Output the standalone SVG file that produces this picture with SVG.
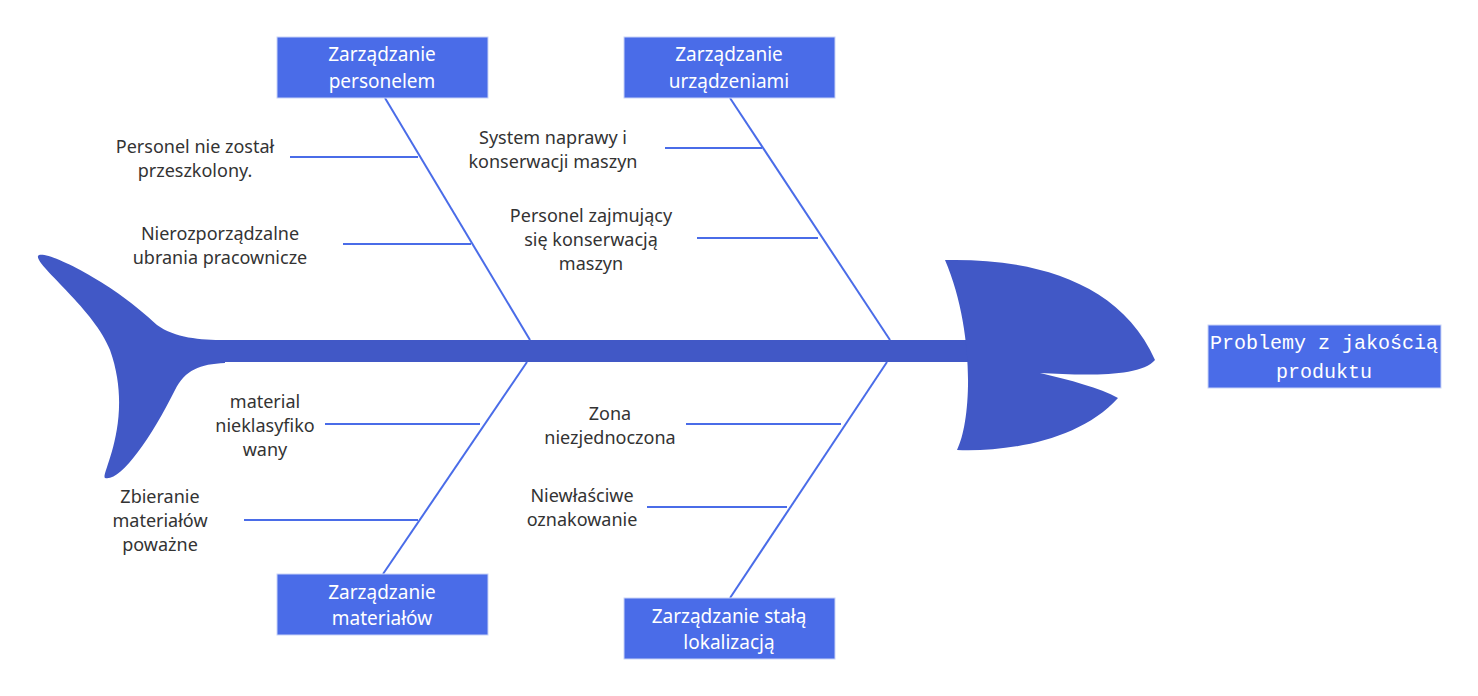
<svg xmlns="http://www.w3.org/2000/svg" width="1478" height="696" viewBox="0 0 1478 696">
<style>
.box{fill:#4a6ce8;stroke:#c9d3f7;stroke-width:1}
.bt{font-family:"Noto Sans","Open Sans",sans-serif;font-size:19px;fill:#fff;text-anchor:middle}
.lb{font-family:"Noto Sans","Open Sans",sans-serif;font-size:18px;fill:#333;text-anchor:middle}
.ln{stroke:#4a6ce8;stroke-width:2;fill:none}
.fish{fill:#4158c6}
</style>
<rect width="1478" height="696" fill="#fff"/>
<g id="fish">
<path class="fish" d="M38,256 C42,248 110,280 157,325 C175,338 200,340 225,340 L225,363 C200,364 185,370 175,390 C150,440 120,482 105,478 C100,475 135,420 110,350 C95,310 35,265 38,256 Z"/>
<rect class="fish" x="200" y="340" width="775" height="22"/>
<path class="fish" d="M945,260 C1030,258 1120,280 1155,360 C1140,378 1080,375 1040,373 C1070,380 1100,388 1118,398 C1080,440 1010,452 957,450 C972,420 975,330 945,260 Z"/>
</g>
<g id="connectors">
<line class="ln" x1="385" y1="98" x2="530" y2="340"/>
<line class="ln" x1="527" y1="362" x2="383" y2="574"/>
<line class="ln" x1="730" y1="98" x2="890" y2="340"/>
<line class="ln" x1="887" y1="362" x2="730" y2="598"/>
<line class="ln" x1="290" y1="157" x2="418" y2="157"/>
<line class="ln" x1="343" y1="244" x2="471" y2="244"/>
<line class="ln" x1="665" y1="148" x2="762" y2="148"/>
<line class="ln" x1="697" y1="238" x2="818" y2="238"/>
<line class="ln" x1="325" y1="424" x2="480" y2="424"/>
<line class="ln" x1="244" y1="520" x2="418" y2="520"/>
<line class="ln" x1="686" y1="424" x2="841" y2="424"/>
<line class="ln" x1="647" y1="507" x2="787" y2="507"/>
</g>
<g id="n_personel"><rect class="box" x="277" y="37" width="211" height="61"/><text class="bt" x="382" y="61">Zarządzanie</text><text class="bt" x="382" y="88">personelem</text></g>
<g id="n_urzadzenia"><rect class="box" x="624" y="37" width="211" height="61"/><text class="bt" x="729" y="61">Zarządzanie</text><text class="bt" x="729" y="88">urządzeniami</text></g>
<g id="n_materialy"><rect class="box" x="277" y="574" width="211" height="61"/><text class="bt" x="382" y="599">Zarządzanie</text><text class="bt" x="382" y="625">materiałów</text></g>
<g id="n_lokalizacja"><rect class="box" x="624" y="598" width="211" height="61"/><text class="bt" x="729" y="623">Zarządzanie stałą</text><text class="bt" x="729" y="649">lokalizacją</text></g>
<g id="n_problem"><rect class="box" x="1208" y="325" width="233" height="63"/><text class="bt" x="1324" y="349" style="font-family:'Liberation Mono',monospace;font-size:20px">Problemy z jakością</text><text class="bt" x="1324" y="378" style="font-family:'Liberation Mono',monospace;font-size:20px">produktu</text></g>
<g id="labels">
<text class="lb" x="195" y="153">Personel nie został</text><text class="lb" x="195" y="177">przeszkolony.</text>
<text class="lb" x="220" y="240">Nierozporządzalne</text><text class="lb" x="220" y="264">ubrania pracownicze</text>
<text class="lb" x="553" y="144">System naprawy i</text><text class="lb" x="553" y="168">konserwacji maszyn</text>
<text class="lb" x="591" y="222">Personel zajmujący</text><text class="lb" x="591" y="246">się konserwacją</text><text class="lb" x="591" y="270">maszyn</text>
<text class="lb" x="265" y="408">material</text><text class="lb" x="265" y="432">nieklasyfiko</text><text class="lb" x="265" y="456">wany</text>
<text class="lb" x="160" y="503">Zbieranie</text><text class="lb" x="160" y="527">materiałów</text><text class="lb" x="160" y="551">poważne</text>
<text class="lb" x="610" y="420">Zona</text><text class="lb" x="610" y="444">niezjednoczona</text>
<text class="lb" x="582" y="502">Niewłaściwe</text><text class="lb" x="582" y="526">oznakowanie</text>
</g>
</svg>
